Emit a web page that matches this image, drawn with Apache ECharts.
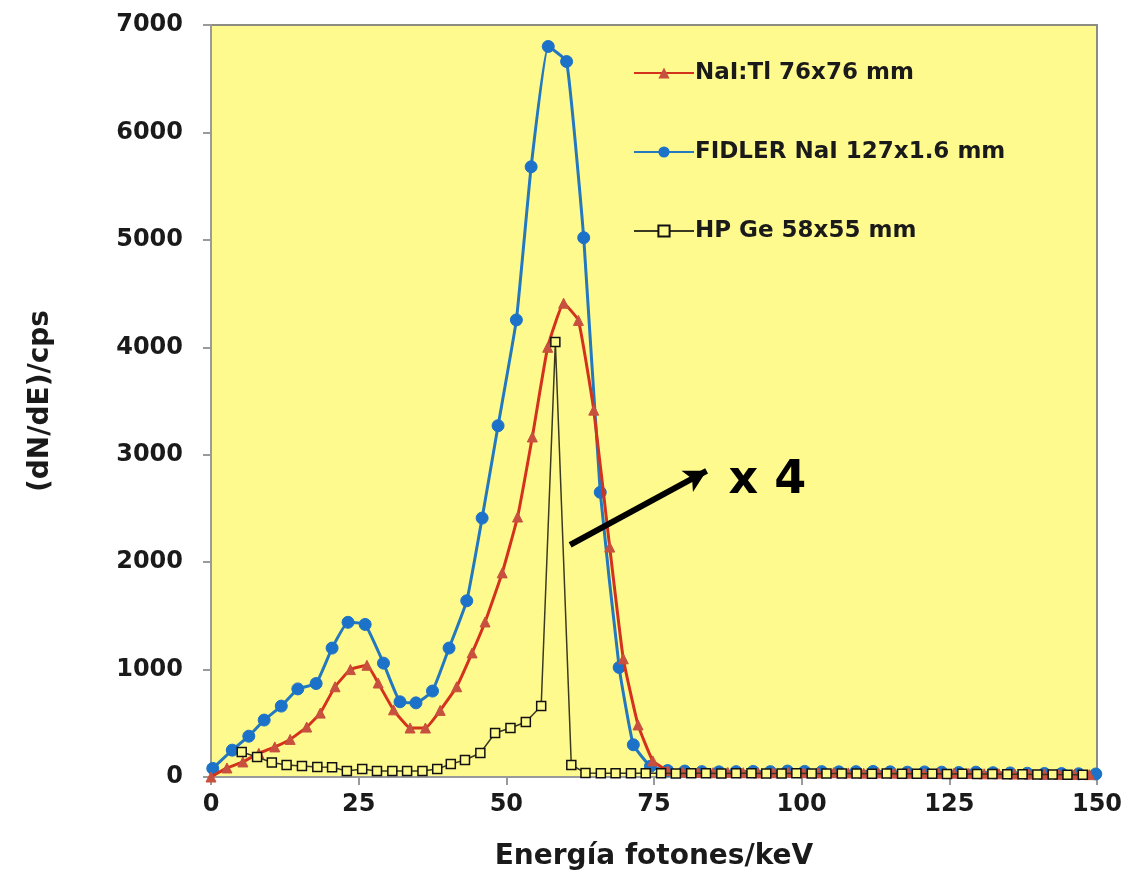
<!DOCTYPE html>
<html>
<head>
<meta charset="utf-8">
<script src="https://cdn.jsdelivr.net/npm/echarts@6/dist/echarts.min.js"></script>
<style>
html,body{margin:0;padding:0;background:#fff;}
#chart{width:1132px;height:877px;}
</style>
</head>
<body>
<div id="chart"></div>
<script>
// Energy (keV) of each measured point, per detector
var nalE = [0,2.7,5.4,8.1,10.8,13.4,16.2,18.5,21.0,23.6,26.4,28.3,30.9,33.7,36.3,38.8,41.6,44.2,46.4,49.3,51.9,54.4,57.0,59.7,62.2,64.8,67.5,69.8,72.3,74.8,77.3,79.9,82.4,85.0,87.5,90.1,92.6,95.2,97.7,100.3,102.8,105.4,107.9,110.5,113.0,115.6,118.1,120.7,123.2,125.8,128.3,130.9,133.4,136.0,138.5,141.1,143.6,146.2,148.7];
var nalCps = [0,84,140,220,280,350,465,595,840,1000,1040,875,625,456,456,620,840,1155,1443,1900,2420,3165,4000,4410,4250,3415,2140,1100,485,150,60,45,42,40,42,40,38,40,42,40,38,40,38,36,38,36,35,34,33,35,33,30,30,28,27,26,25,24,22];

var fidlerE = [0.3,3.6,6.4,9.0,11.9,14.7,17.8,20.5,23.2,26.1,29.2,32.0,34.7,37.5,40.3,43.3,45.9,48.6,51.7,54.2,57.1,60.2,63.1,65.9,69.1,71.5,74.4,77.3,80.2,83.1,86.0,88.9,91.8,94.7,97.6,100.5,103.4,106.3,109.2,112.1,115.0,117.9,120.8,123.7,126.6,129.5,132.4,135.3,138.2,141.1,144.0,146.9,149.8];
var fidlerCps = [80,250,380,530,660,820,870,1200,1440,1420,1060,700,690,800,1200,1640,2410,3270,4255,5680,6800,6660,5020,2650,1020,300,100,60,55,50,48,50,52,50,55,52,50,48,50,52,48,45,47,45,42,45,40,38,35,33,32,30,28];

var hpgeE = [5.2,7.8,10.3,12.8,15.4,18.0,20.5,23.0,25.6,28.1,30.7,33.2,35.8,38.3,40.6,43.0,45.6,48.1,50.7,53.3,55.9,58.3,61.0,63.4,66.0,68.5,71.1,73.6,76.2,78.7,81.3,83.8,86.4,88.9,91.5,94.0,96.6,99.1,101.7,104.2,106.8,109.3,111.9,114.4,117.0,119.5,122.1,124.6,127.2,129.7,132.3,134.8,137.4,139.9,142.5,145.0,147.6];
var hpgeCps = [233,186,135,112,102,93,90,56,74,56,56,56,56,75,120,158,223,410,456,512,661,4050,112,37,35,35,34,35,34,33,35,34,33,35,34,33,32,34,33,32,33,32,31,32,30,31,30,29,30,28,27,26,25,24,23,22,21];

var seriesNames = ['NaI:Tl 76x76 mm', 'FIDLER NaI 127x1.6 mm', 'HP Ge 58x55 mm'];
var xTicks = [0, 25, 50, 75, 100, 125, 150];
var yTicks = [0, 1000, 2000, 3000, 4000, 5000, 6000, 7000];
var xTitle = 'Energía fotones/keV';
var yTitle = '(dN/dE)/cps';
var scaleNote = 'x 4';
// annotation arrow (data coordinates: keV, cps)
var arrowFrom = [60.8, 2160];
var arrowTo = [83.9, 2850];
var notePos = [94.2, 2755];

function pairs(xs, ys) { return xs.map(function (x, i) { return [x, ys[i]]; }); }

var FONT = 'DejaVu Sans';
var tickLabelStyle = { fontFamily: FONT, fontWeight: 'bold', fontSize: 24, color: '#1a1a1a' };
var chart = echarts.init(document.getElementById('chart'));
chart.setOption({
  animation: false,
  backgroundColor: '#ffffff',
  grid: {
    left: 211, right: 35, top: 25, bottom: 100,
    show: true, backgroundColor: '#FFFA8E', borderColor: '#8c8c80', borderWidth: 2
  },
  legend: {
    orient: 'vertical',
    left: 628, top: 56,
    itemGap: 55, itemWidth: 60, itemHeight: 14,
    textStyle: { fontFamily: FONT, fontWeight: 'bold', fontSize: 23, color: '#1a1a1a', lineHeight: 24, padding: [0, 0, 0, -4] },
    data: seriesNames
  },
  xAxis: [
    {
      type: 'value', min: xTicks[0], max: xTicks[xTicks.length - 1], interval: 25,
      name: xTitle, nameLocation: 'middle', nameGap: 66,
      nameTextStyle: { fontFamily: FONT, fontWeight: 'bold', fontSize: 28, color: '#1a1a1a' },
      axisLine: { lineStyle: { color: '#9a9a9a', width: 2 } },
      axisTick: { show: true, inside: false, length: 8, lineStyle: { color: '#9a9a9a', width: 2 } },
      axisLabel: { show: false },
      splitLine: { show: false }
    },
    {
      // tick-label ring for the energy axis: one label per tick value
      type: 'category', data: xTicks.map(String), boundaryGap: false, position: 'bottom',
      axisLine: { show: false }, axisTick: { show: false }, splitLine: { show: false },
      axisPointer: { show: false },
      axisLabel: Object.assign({ interval: 0, margin: 16, hideOverlap: false }, tickLabelStyle)
    }
  ],
  yAxis: {
    type: 'value', min: yTicks[0], max: yTicks[yTicks.length - 1], interval: 1000,
    name: yTitle, nameLocation: 'middle', nameGap: 156, nameRotate: 90,
    nameTextStyle: { fontFamily: FONT, fontWeight: 'bold', fontSize: 28, color: '#1a1a1a' },
    axisLine: { show: true, lineStyle: { color: '#9a9a9a', width: 2 } },
    axisTick: { show: true, inside: false, length: 8, lineStyle: { color: '#9a9a9a', width: 2 } },
    axisLabel: Object.assign({ margin: 28, hideOverlap: false, formatter: function (v) { return String(v); } }, tickLabelStyle),
    splitLine: { show: false }
  },
  series: [
    {
      name: seriesNames[0], type: 'line', xAxisIndex: 0, data: pairs(nalE, nalCps),
      smooth: 0.12, symbol: 'triangle', symbolSize: 10,
      lineStyle: { color: '#D3331D', width: 3 },
      itemStyle: { color: '#C8503E', borderColor: '#C8503E' },
      z: 3
    },
    {
      name: seriesNames[1], type: 'line', xAxisIndex: 0, data: pairs(fidlerE, fidlerCps),
      smooth: 0.12, symbol: 'circle', symbolSize: 12,
      lineStyle: { color: '#2478BE', width: 3 },
      itemStyle: { color: '#1C72C8', borderColor: '#1C72C8' },
      z: 2
    },
    {
      name: seriesNames[2], type: 'line', xAxisIndex: 0, data: pairs(hpgeE, hpgeCps),
      smooth: false, symbol: 'rect', symbolSize: 9,
      lineStyle: { color: '#3a3a20', width: 1.5 },
      itemStyle: { color: '#FFFA8E', borderColor: '#111111', borderWidth: 1.5 },
      z: 4,
      markLine: {
        silent: true, animation: false,
        symbol: ['none', 'arrow'], symbolSize: [18, 22],
        lineStyle: { color: '#000', width: 6, type: 'solid' },
        label: { show: false },
        data: [[{ coord: arrowFrom }, { coord: arrowTo }]]
      },
      markPoint: {
        silent: true, animation: false,
        symbol: 'circle', symbolSize: 1, itemStyle: { color: 'rgba(0,0,0,0)' },
        label: { show: true, formatter: scaleNote, position: 'inside', fontFamily: FONT, fontWeight: 'bold', fontSize: 46, color: '#000' },
        data: [{ coord: notePos }]
      }
    }
  ]
});
</script>
</body>
</html>
